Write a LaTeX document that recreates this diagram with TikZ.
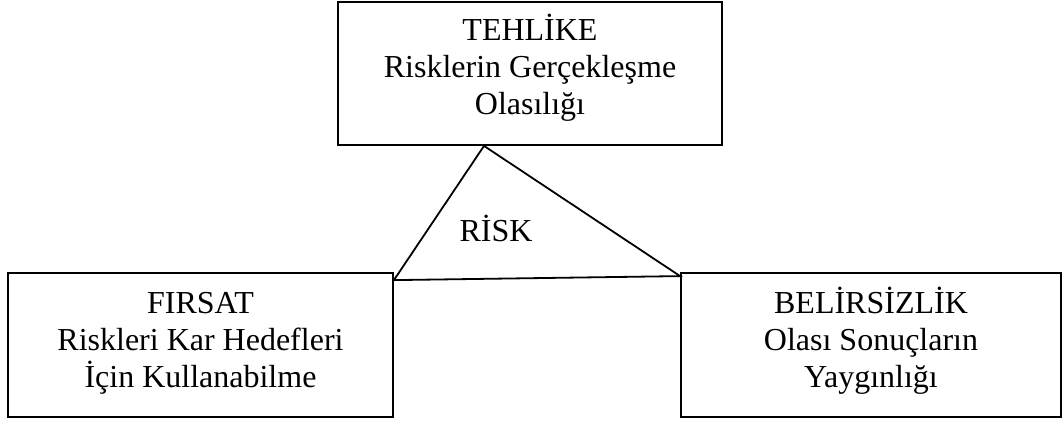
\documentclass[tikz,border=0pt]{standalone}
\usepackage{fontspec}
\setmainfont{Liberation Serif}
\usetikzlibrary{calc}
\begin{document}
\begin{tikzpicture}[x=1pt,y=-1pt,
  box/.style={draw, line width=1.8pt, inner sep=0pt},
  txt/.style={align=center, anchor=base, inner sep=0pt,
              font=\fontsize{32}{36.8}\selectfont},
  edge/.style={line width=1.8pt, line join=miter}]
\useasboundingbox (0,0) rectangle (1064,421);

% the three boxes
\node[box, minimum width=384pt, minimum height=143pt] (tehlike) at (530,73.5) {};
\node[box, minimum width=385pt, minimum height=144pt] (firsat) at (200.5,345) {};
\node[box, minimum width=380pt, minimum height=144pt] (belirsizlik) at (871,345) {};

% box texts (anchored on the baseline of the last line)
\node[txt] (tehliketxt) at (530,114) {TEHLİKE\\Risklerin Gerçekleşme\\Olasılığı};
\node[txt] (firsattxt) at (200.5,387) {FIRSAT\\Riskleri Kar Hedefleri\\İçin Kullanabilme};
\node[txt] (belirsizliktxt) at (871,387) {BELİRSİZLİK\\Olası Sonuçların\\Yaygınlığı};

% the risk triangle
\coordinate (apex) at ($(tehlike.south)+(-46,0)$);
\coordinate (lv) at ($(firsat.north east)+(0,8)$);
\coordinate (rv) at ($(belirsizlik.north west)+(0,4)$);
\draw[edge] (apex) -- (lv) -- (rv) -- cycle;
\node[txt] (risk) at (496,241) {RİSK};
\end{tikzpicture}
\end{document}
